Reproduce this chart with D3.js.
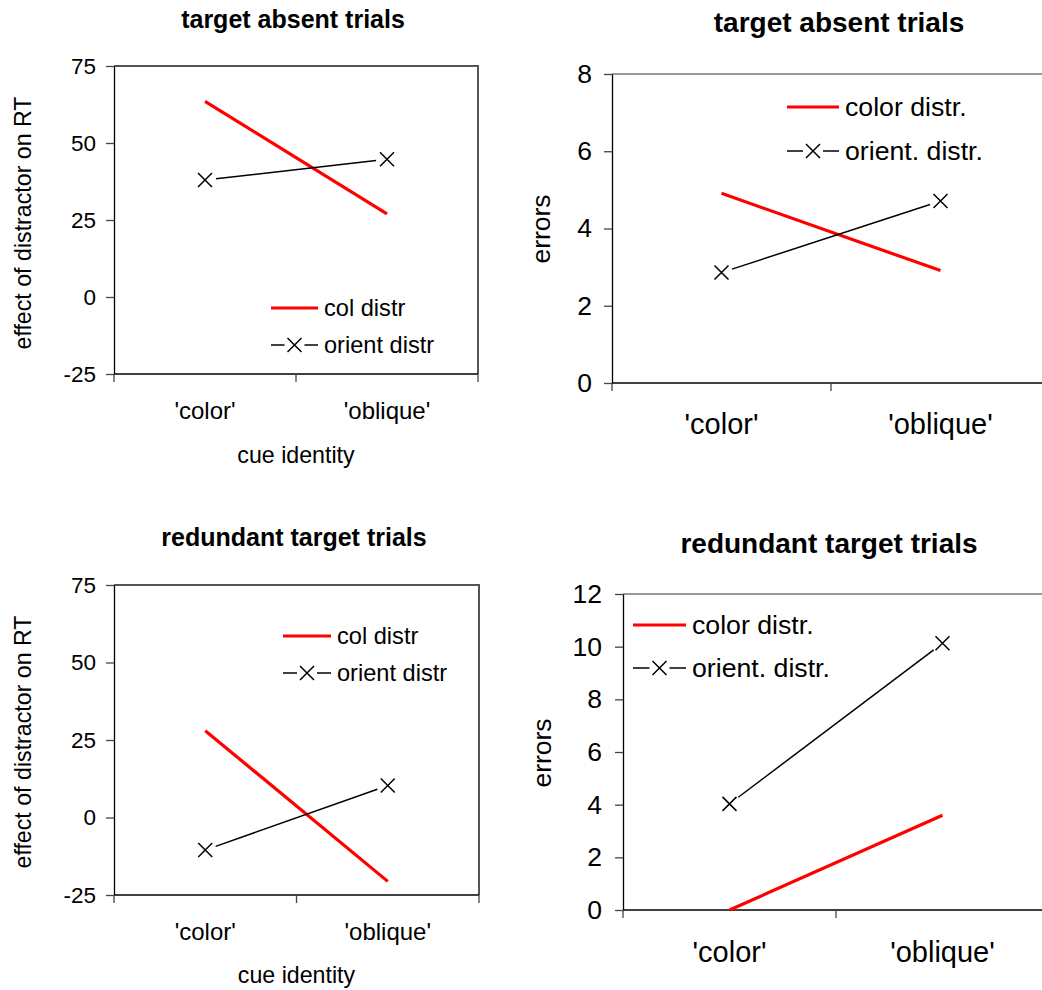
<!DOCTYPE html>
<html>
<head>
<meta charset="utf-8">
<script src="https://cdn.jsdelivr.net/npm/d3@7"></script>
<style>
  body { margin: 0; background: #fff; }
  svg { display: block; font-family: "Liberation Sans", Arial, sans-serif; }
</style>
</head>
<body>
<svg id="chart" width="1042" height="990"></svg>
<script>
// ---------- data ----------
const CATEGORIES = ["'color'", "'oblique'"];

const rtTicks = [-25, 0, 25, 50, 75];
const errAbsentTicks = [0, 2, 4, 6, 8];
const errRedundantTicks = [0, 2, 4, 6, 8, 10, 12];

// effect of distractor on RT (ms)
const rtAbsentColor = [63.5, 27];
const rtAbsentOrient = [38, 44.7];
const rtRedundantColor = [28, -20.6];
const rtRedundantOrient = [-10.5, 10.3];

// errors
const errAbsentColor = [4.91, 2.91];
const errAbsentOrient = [2.86, 4.71];
const errRedundantColor = [0, 3.6];
const errRedundantOrient = [4.03, 10.13];

// ---------- panel layout ----------
const panels = [
  {
    title: "target absent trials", titleX: 293, titleY: 28, titleSize: 25,
    box: { left: 114, right: 478, top: 66, bottom: 374 },
    domain: [-25, 75], ticks: rtTicks, yLabel: "effect of distractor on RT", yLabelX: 23, yLabelY: 223,
    xLabel: "cue identity", xLabelY: 463, tickSize: 22.5, catSize: 24, labelSize: 23.2, legSize: 23.6,
    tickPad: 10, catY: 419, border: true,
    colorVals: rtAbsentColor, orientVals: rtAbsentOrient,
    legend: { x: 271, y: 308, gap: 37, len: 47, labels: ["col distr", "orient distr"] }
  },
  {
    title: "target absent trials", titleX: 839, titleY: 32, titleSize: 28,
    box: { left: 612, right: 1050, top: 74, bottom: 383 },
    domain: [0, 8], ticks: errAbsentTicks, yLabel: "errors", yLabelX: 541, yLabelY: 229,
    xLabel: null, tickSize: 26.5, catSize: 29, labelSize: 26.5, legSize: 26.7,
    tickPad: 12, catY: 434, border: false,
    colorVals: errAbsentColor, orientVals: errAbsentOrient,
    legend: { x: 787, y: 107, gap: 44, len: 52, labels: ["color distr.", "orient. distr."] }
  },
  {
    title: "redundant target trials", titleX: 294, titleY: 546, titleSize: 25,
    box: { left: 114, right: 479, top: 585, bottom: 895 },
    domain: [-25, 75], ticks: rtTicks, yLabel: "effect of distractor on RT", yLabelX: 23, yLabelY: 742,
    xLabel: "cue identity", xLabelY: 983, tickSize: 22.5, catSize: 24, labelSize: 23.2, legSize: 23.6,
    tickPad: 10, catY: 940, border: true,
    colorVals: rtRedundantColor, orientVals: rtRedundantOrient,
    legend: { x: 283, y: 636, gap: 37, len: 48, labels: ["col distr", "orient distr"] }
  },
  {
    title: "redundant target trials", titleX: 829, titleY: 553, titleSize: 28,
    box: { left: 623, right: 1049, top: 594, bottom: 910 },
    domain: [0, 12], ticks: errRedundantTicks, yLabel: "errors", yLabelX: 542, yLabelY: 753,
    xLabel: null, tickSize: 26.5, catSize: 29, labelSize: 26.5, legSize: 26.7,
    tickPad: 13, catY: 962, border: false,
    colorVals: errRedundantColor, orientVals: errRedundantOrient,
    legend: { x: 633, y: 625, gap: 43, len: 53, labels: ["color distr.", "orient. distr."] }
  }
];

const RED = "#ff0000";
const MARK = 7;      // half size of the x marker
const GAP = 11;      // line stops short of the marker

const svg = d3.select("#chart");

// trim a segment so it doesn't run into the markers
function trimmed(p, q, r0, r1) {
  const dx = q[0] - p[0], dy = q[1] - p[1], L = Math.hypot(dx, dy);
  return [
    [p[0] + dx * r0 / L, p[1] + dy * r0 / L],
    [q[0] - dx * r1 / L, q[1] - dy * r1 / L]
  ];
}

function cross(g, cx, cy) {
  g.append("path")
    .attr("d", `M${cx - MARK},${cy - MARK}L${cx + MARK},${cy + MARK}M${cx - MARK},${cy + MARK}L${cx + MARK},${cy - MARK}`)
    .attr("stroke", "#000").attr("stroke-width", 1.5).attr("fill", "none");
}

panels.forEach(p => {
  const g = svg.append("g");
  const b = p.box;

  const x = d3.scaleBand().domain(CATEGORIES).range([b.left, b.right]).padding(0);
  const y = d3.scaleLinear().domain(p.domain).range([b.bottom, b.top]);
  const cx = c => x(c) + x.bandwidth() / 2;

  // plot area border (top / right)
  if (p.border) {
    g.append("path")
      .attr("d", `M${b.left},${b.top}H${b.right}V${b.bottom}`)
      .attr("fill", "none").attr("stroke", "#555").attr("stroke-width", 2);
  } else {
    g.append("line")
      .attr("x1", b.left).attr("x2", b.right).attr("y1", b.top).attr("y2", b.top)
      .attr("stroke", "#333").attr("stroke-width", 1.2);
  }

  // y axis (plain hyphen for negatives, as in the original)
  const yAxis = g.append("g")
    .attr("transform", `translate(${b.left},0)`)
    .call(d3.axisLeft(y).tickValues(p.ticks).tickFormat(d => String(d))
      .tickSize(8).tickSizeOuter(0).tickPadding(p.tickPad));
  yAxis.select(".domain").attr("stroke", "#000").attr("stroke-width", 1.3);
  yAxis.selectAll(".tick line").attr("stroke", "#444").attr("stroke-width", 1.3);
  yAxis.selectAll(".tick text")
    .attr("font-size", p.tickSize).attr("font-family", "Liberation Sans, Arial, sans-serif")
    .attr("fill", "#000");

  // x axis: baseline, ticks at category boundaries, labels at centres
  g.append("line")
    .attr("x1", b.left).attr("x2", b.right).attr("y1", y(p.domain[0])).attr("y2", y(p.domain[0]))
    .attr("stroke", "#000").attr("stroke-width", 1.3);
  const bounds = [x.range()[0]].concat(CATEGORIES.map(c => x(c) + x.bandwidth()));
  g.selectAll("line.xtick").data(bounds).join("line")
    .attr("class", "xtick")
    .attr("x1", d => d).attr("x2", d => d)
    .attr("y1", b.bottom).attr("y2", b.bottom + 8)
    .attr("stroke", "#444").attr("stroke-width", 1.3);
  g.selectAll("text.cat").data(CATEGORIES).join("text")
    .attr("class", "cat")
    .attr("x", d => cx(d)).attr("y", p.catY)
    .attr("text-anchor", "middle").attr("font-size", p.catSize)
    .text(d => d);

  // titles
  g.append("text")
    .attr("x", p.titleX).attr("y", p.titleY)
    .attr("text-anchor", "middle").attr("font-weight", "bold").attr("font-size", p.titleSize)
    .text(p.title);
  g.append("text")
    .attr("transform", `translate(${p.yLabelX},${p.yLabelY}) rotate(-90)`)
    .attr("text-anchor", "middle").attr("dy", "0.35em").attr("font-size", p.labelSize)
    .text(p.yLabel);
  if (p.xLabel) {
    g.append("text")
      .attr("x", (b.left + b.right) / 2).attr("y", p.xLabelY)
      .attr("text-anchor", "middle").attr("font-size", p.labelSize)
      .text(p.xLabel);
  }

  // series
  const colorPts = CATEGORIES.map((c, i) => [cx(c), y(p.colorVals[i])]);
  const orientPts = CATEGORIES.map((c, i) => [cx(c), y(p.orientVals[i])]);

  g.append("path")
    .attr("d", d3.line()(colorPts))
    .attr("stroke", RED).attr("stroke-width", 3.2).attr("fill", "none");

  const seg = trimmed(orientPts[0], orientPts[1], GAP, GAP);
  g.append("path")
    .attr("d", d3.line()(seg))
    .attr("stroke", "#000").attr("stroke-width", 1.5).attr("fill", "none");
  orientPts.forEach(pt => cross(g, pt[0], pt[1]));

  // legend
  const L = p.legend;
  g.append("line")
    .attr("x1", L.x).attr("x2", L.x + L.len).attr("y1", L.y).attr("y2", L.y)
    .attr("stroke", RED).attr("stroke-width", 3.2);
  const oy = L.y + L.gap, mid = L.x + L.len / 2;
  g.append("line")
    .attr("x1", L.x).attr("x2", mid - GAP + 1).attr("y1", oy).attr("y2", oy)
    .attr("stroke", "#000").attr("stroke-width", 1.5);
  g.append("line")
    .attr("x1", mid + GAP - 1).attr("x2", L.x + L.len).attr("y1", oy).attr("y2", oy)
    .attr("stroke", "#000").attr("stroke-width", 1.5);
  cross(g, mid, oy);
  g.selectAll("text.leg").data(L.labels).join("text")
    .attr("class", "leg")
    .attr("x", L.x + L.len + 6)
    .attr("y", (d, i) => L.y + i * L.gap)
    .attr("dy", "0.35em")
    .attr("font-size", p.legSize)
    .text(d => d);
});
</script>
</body>
</html>
